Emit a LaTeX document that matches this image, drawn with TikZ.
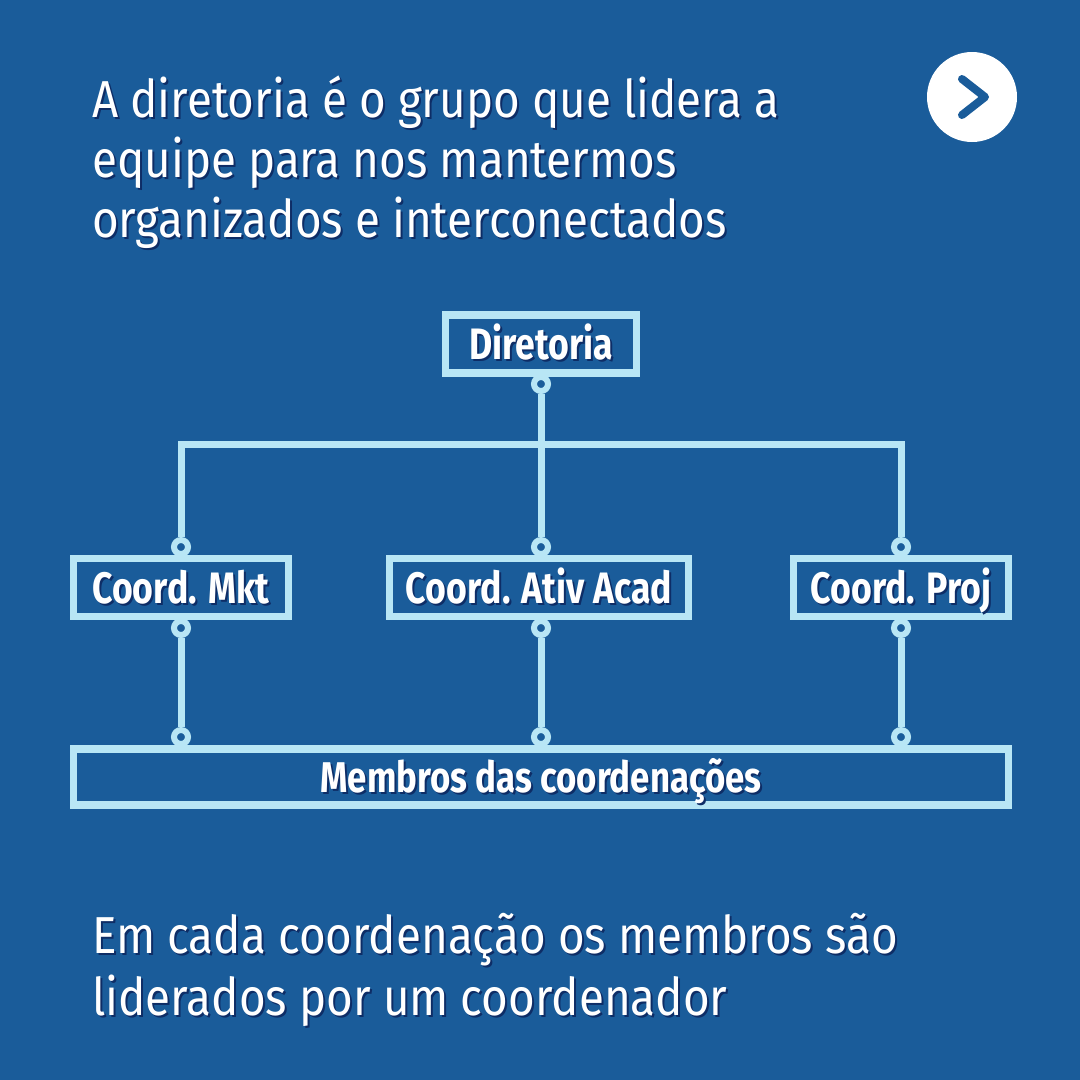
\documentclass[tikz,border=0pt]{standalone}
\usepackage{fontspec}
\setmainfont{Fira Sans}
\newfontfamily\narrowfont[FakeStretch=0.88]{Fira Sans}
\newfontfamily\narrowbold[FakeStretch=0.81]{Fira Sans Bold}
\definecolor{bgblue}{HTML}{1A5C9A}
\definecolor{lineblue}{HTML}{B8E6F5}
\definecolor{shade}{HTML}{0E2D66}
\newcommand\shd[1]{\makebox[0pt][l]{\kern2pt\raisebox{-2pt}{\textcolor{shade}{#1}}}#1}
\tikzset{
  orgbox/.style={draw=lineblue, line width=7.5pt, fill=bgblue, text=white, inner sep=0pt,
    minimum height=58pt, text height=31pt, text depth=0pt,
    font=\narrowbold\fontsize{44}{48}\selectfont},
  dot/.style={circle, draw=lineblue, line width=6pt, fill=bgblue, minimum size=14pt, inner sep=0pt},
  link/.style={draw=lineblue, line width=7pt},
  para/.style={text=white, anchor=base west, align=left, inner sep=0pt}
}
\begin{document}
\begin{tikzpicture}[x=1pt,y=-1pt]
\fill[bgblue] (0,0) rectangle (1080,1080);
\useasboundingbox (0,0) rectangle (1080,1080);
% next button
\fill[white] (972,97) circle (45pt);
\draw[bgblue, line width=8pt, line cap=round, line join=round] (962,79) -- (985,97) -- (962,115);
% texts (anchored at the last line)
\node[para, font=\narrowfont\fontsize{52}{60}\selectfont] (intro) at (92,237)
  {\shd{A diretoria é o grupo que lidera a}\\\shd{equipe para nos mantermos}\\\shd{organizados e interconectados}};
\node[para, font=\narrowfont\fontsize{52}{62}\selectfont] (outro) at (92,1015)
  {\shd{Em cada coordenação os membros são}\\\shd{liderados por um coordenador}};
% boxes
\node[orgbox, minimum width=191pt] (dir) at (541,344) {\shd{Diretoria}};
\node[orgbox, minimum width=215pt] (mkt) at (181,587.5) {\shd{Coord. Mkt}};
\node[orgbox, minimum width=299pt] (acad) at (539,587.5) {\shd{Coord. Ativ Acad}};
\node[orgbox, minimum width=215pt] (proj) at (901,587.5) {\shd{Coord. Proj}};
\node[orgbox, minimum width=935pt, minimum height=56pt, text height=30pt,
  font=\narrowbold\fontsize{43}{46}\selectfont] (memb) at (541,777) {\shd{Membros das coordenações}};
% hinges
\coordinate (bar) at (541,444);
\node[dot] (dird) at (541,384) {};
\node[dot] (mktt) at (181,547) {};
\node[dot] (acadt) at (541,547) {};
\node[dot] (projt) at (901,547) {};
\node[dot] (mktb) at (181,628) {};
\node[dot] (acadb) at (541,628) {};
\node[dot] (projb) at (901,628) {};
\node[dot] (memb1) at (181,737) {};
\node[dot] (memb2) at (541,737) {};
\node[dot] (memb3) at (901,737) {};
% links
\draw[link] (dird) -- (acadt);
\draw[link] (mktt) |- (bar) -| (projt);
\draw[link] (mktb) -- (memb1);
\draw[link] (acadb) -- (memb2);
\draw[link] (projb) -- (memb3);
\end{tikzpicture}
\end{document}
